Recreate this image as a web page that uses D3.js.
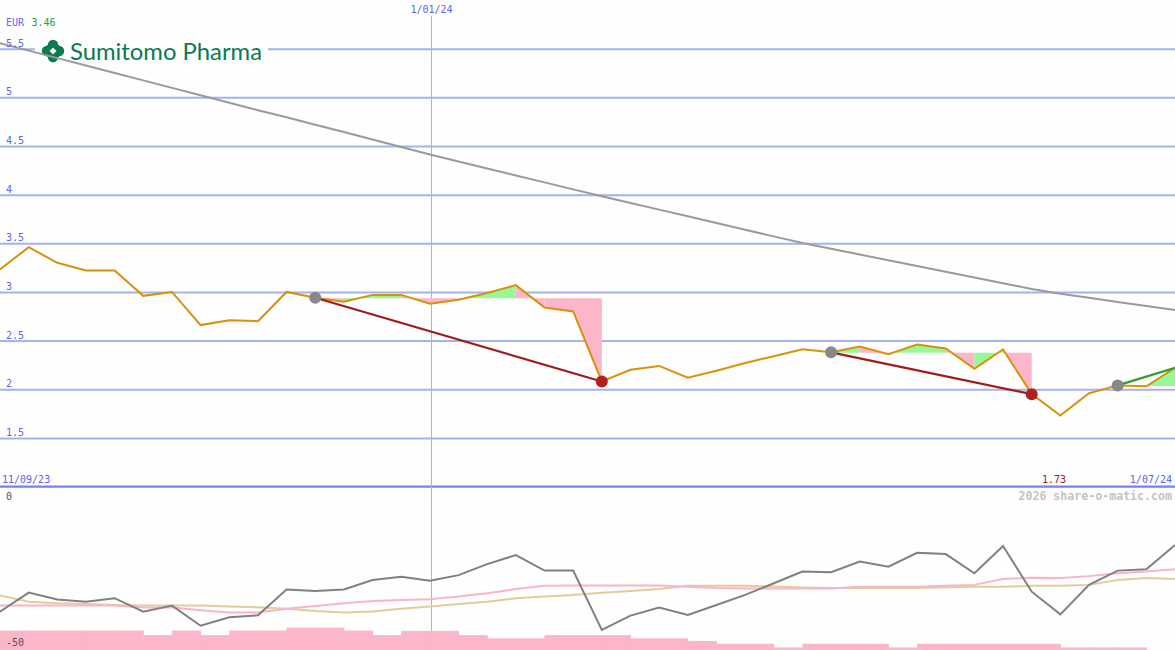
<!DOCTYPE html>
<html><head><meta charset="utf-8">
<script src="https://cdn.jsdelivr.net/npm/d3@7"></script>
<style>html,body{margin:0;padding:0;background:#fdfefd;overflow:hidden}</style>
</head><body><svg id="c" width="1175" height="650"></svg>
<script>
// ---- data ----
const dates = ["2023-09-18","2023-09-25","2023-10-02","2023-10-09","2023-10-16","2023-10-23","2023-10-30",
  "2023-11-06","2023-11-13","2023-11-20","2023-11-27","2023-12-04","2023-12-11","2023-12-18","2023-12-25",
  "2024-01-01","2024-01-08","2024-01-15","2024-01-22","2024-01-29","2024-02-05","2024-02-12","2024-02-19",
  "2024-02-26","2024-03-04","2024-03-11","2024-03-18","2024-03-25","2024-04-01","2024-04-08","2024-04-15",
  "2024-04-22","2024-04-29","2024-05-06","2024-05-13","2024-05-20","2024-05-27","2024-06-03","2024-06-10",
  "2024-06-17","2024-06-24","2024-07-01"];
const price = [3.23,3.46,3.30,3.22,3.22,2.96,3.00,2.66,2.71,2.70,3.00,2.94,2.90,2.97,2.97,2.88,2.92,2.99,3.07,2.84,
  2.80,2.08,2.20,2.24,2.12,2.19,2.27,2.34,2.41,2.38,2.44,2.36,2.46,2.42,2.21,2.41,1.95,1.73,1.96,2.04,2.03,2.22];
const movingAvg = [5.556,5.480,5.403,5.327,5.250,5.174,5.097,5.021,4.944,4.867,4.795,4.719,4.643,4.566,4.490,4.413,
  4.341,4.269,4.197,4.126,4.054,3.984,3.915,3.846,3.777,3.708,3.639,3.571,3.503,3.443,3.384,3.326,3.266,3.208,
  3.149,3.089,3.031,2.982,2.940,2.898,2.856,2.815];
const osc = [-38.2,-32.3,-34.4,-35.1,-34.0,-38.2,-36.3,-42.5,-39.9,-39.3,-31.3,-31.8,-31.3,-28.4,-27.4,-28.6,-26.9,
  -23.5,-20.7,-25.5,-25.5,-43.8,-39.4,-36.9,-39.2,-36.1,-33.0,-29.4,-25.8,-26.0,-22.7,-24.3,-20.0,-20.4,-26.3,
  -17.9,-32.0,-39.0,-29.9,-25.5,-25.1,-17.6];
const oscPink = [-36.3,-36.3,-36.3,-36.3,-36.3,-36.9,-36.9,-37.7,-38.4,-38.4,-37.3,-36.4,-35.6,-34.9,-34.6,-34.3,
  -33.5,-32.5,-31.2,-30.2,-30.1,-30.1,-30.1,-30.1,-30.5,-30.9,-31.0,-31.0,-31.0,-31.0,-30.5,-30.5,-30.5,-30.2,
  -29.9,-28.1,-27.7,-27.8,-27.2,-26.3,-25.8,-25.1];
const oscTan = [-33.2,-35.1,-35.6,-35.8,-36.1,-36.3,-36.3,-36.3,-36.6,-36.8,-37.3,-38.0,-38.4,-38.1,-37.3,-36.6,
  -35.8,-35.1,-34.0,-33.5,-33.0,-32.3,-31.8,-31.2,-30.2,-30.2,-30.2,-30.4,-30.7,-30.9,-30.9,-30.9,-30.9,-30.6,
  -30.5,-30.5,-30.2,-30.2,-29.9,-28.4,-27.8,-28.1];
const hist = [-44.0,-44.0,-44.0,-44.0,-44.0,-45.4,-44.0,-45.4,-44.0,-44.0,-43.1,-43.1,-44.0,-45.4,-44.1,-44.1,
  -45.4,-46.4,-46.4,-45.4,-45.4,-45.4,-46.4,-46.4,-47.2,-48.1,-48.1,-49.2,-48.1,-48.1,-48.1,-49.2,-48.1,-48.1,
  -48.1,-48.1,-48.1,-49.2,-49.2,-49.2,-50,-50];
const priceTicks = [1.5,2,2.5,3,3.5,4,4.5,5,5.5];
const priceTickLabels = ["1.5","2","2.5","3","3.5","4","4.5","5","5.5"];
const tradeEntry = ["2023-12-04","2024-04-08","2024-06-17"];
const tradeExit  = ["2024-02-12","2024-05-27","2024-07-01"];
const tradeOpen  = [false,false,true];
const yearMark = "2024-01-01";
const yearLabel = "1/01/24";
const startLabel = "11/09/23", endLabel = "1/07/24";
const currency = "EUR", maxLabel = "3.46", minLabel = "1.73";
const credit = "2026 share-o-matic.com";

// ---- setup ----
const W = 1175, H = 650;
const parse = d3.utcParse("%Y-%m-%d");
const D = dates.map(parse);
const svg = d3.select("#c");
svg.append("rect").attr("width",W).attr("height",H).attr("fill","#fdfefd");
const x = d3.scaleUtc().domain([D[0], D[D.length-1]]).range([0, W]);
const y = d3.scaleLinear().domain([1, 6]).range([486.6, 0]);
const y2 = d3.scaleLinear().domain([-50, 0]).range([650, 488]);
const mono = "'DejaVu Sans Mono', monospace";
const blueTxt = "#5868ee";
const GREEN = "#98f898", PINK = "#fbb6c9";

// gridlines via axis
const gAxis = svg.append("g").call(d3.axisRight(y).tickValues(priceTicks).tickSize(W).tickFormat(""));
gAxis.select(".domain").remove();
gAxis.selectAll(".tick line").attr("stroke","#a4b2f0").attr("stroke-width",2);
svg.append("line").attr("x1",0).attr("x2",W).attr("y1",y(1)).attr("y2",y(1))
  .attr("stroke","#7282f0").attr("stroke-width",2.2);

// vertical year line
const xm = Math.round(x(parse(yearMark))) + 1.5;
svg.append("line").attr("x1",xm).attr("x2",xm).attr("y1",16).attr("y2",H)
  .attr("stroke","#a4b2f0").attr("stroke-width",1);

// lower panel bars
const step = x(D[1]) - x(D[0]);
svg.append("g").selectAll("rect").data(hist).join("rect")
  .attr("x",(d,i)=>x(D[i])).attr("width",step+0.5)
  .attr("y",d=>y2(d)).attr("height",d=>Math.max(0,y2(-50)-y2(d)))
  .attr("fill",PINK);

// lower lines
const l2 = arr => d3.line().x((d,i)=>x(D[i])).y(d=>y2(d))(arr);
svg.append("path").attr("d",l2(oscTan)).attr("fill","none").attr("stroke","#e2cc9c").attr("stroke-width",2);
svg.append("path").attr("d",l2(oscPink)).attr("fill","none").attr("stroke","#f9b4c8").attr("stroke-width",2);
svg.append("path").attr("d",l2(osc)).attr("fill","none").attr("stroke","#808080").attr("stroke-width",2);

// trade fills: per segment between price and entry level, coloured by segment end
tradeEntry.forEach((e,t)=>{
  const i0 = dates.indexOf(e), i1 = dates.indexOf(tradeExit[t]);
  const lvl = price[i0], yl = y(lvl) + 0.5;
  for(let i=i0;i<i1;i++){
    const up = price[i+1] >= lvl;
    const pts = [[x(D[i]),yl],[x(D[i]),y(price[i])],[x(D[i+1]),y(price[i+1])],[x(D[i+1]),yl]];
    svg.append("path").attr("d","M"+pts.join("L")+"Z").attr("fill", up?GREEN:PINK);
  }
});

// logo box
svg.append("rect").attr("x",35).attr("y",38).attr("width",233).attr("height",24).attr("fill","#fdfefd");
const logo = svg.append("g").attr("fill","#0a7a50");
[[0,-6],[0,6],[-6,0],[6,0]].forEach(o=>logo.append("circle").attr("cx",53+o[0]).attr("cy",51+o[1]).attr("r",5.2));
logo.append("rect").attr("x",47).attr("y",45).attr("width",12).attr("height",12);
svg.append("path").attr("d","M53,47.5L56.5,51L53,54.5L49.5,51Z").attr("fill","#fdfefd");
svg.append("text").attr("x",70).attr("y",59.5).text("Sumitomo Pharma")
  .attr("font-family","Lato, 'Open Sans', sans-serif").attr("font-size",23).attr("fill","#0a7a50")
  .attr("textLength",192).attr("lengthAdjust","spacingAndGlyphs");

// moving average
const l1 = arr => d3.line().x((d,i)=>x(D[i])).y(d=>y(d))(arr);
svg.append("path").attr("d",l1(movingAvg)).attr("fill","none").attr("stroke","#9a9a9a").attr("stroke-width",2);

// price line
svg.append("path").attr("d",l1(price)).attr("fill","none").attr("stroke","#d6920a").attr("stroke-width",2);

// trades
tradeEntry.forEach((e,t)=>{
  const i0 = dates.indexOf(e), i1 = dates.indexOf(tradeExit[t]);
  svg.append("line").attr("x1",x(D[i0])).attr("y1",y(price[i0])).attr("x2",x(D[i1])).attr("y2",y(price[i1]))
    .attr("stroke", tradeOpen[t] ? "#2e9e2e" : "#a01c1c").attr("stroke-width",2.2);
});
tradeEntry.forEach((e,t)=>{
  const i0 = dates.indexOf(e), i1 = dates.indexOf(tradeExit[t]);
  svg.append("circle").attr("cx",x(D[i0])).attr("cy",y(price[i0])).attr("r",6).attr("fill","#888888");
  if(!tradeOpen[t]) svg.append("circle").attr("cx",x(D[i1])).attr("cy",y(price[i1])).attr("r",6).attr("fill","#b02020");
});

// labels
const txt = (s,xx,yy,col,anchor)=>svg.append("text").attr("x",xx).attr("y",yy).text(s).attr("fill",col)
    .attr("font-family",mono).attr("font-size",10).attr("text-anchor",anchor||"start");
priceTicks.forEach((v,i)=>txt(priceTickLabels[i],6,y(v)-2,blueTxt));
txt(currency,6,25.7,blueTxt);
txt(maxLabel,31.5,25.7,"#2ca02c");
txt(yearLabel,xm,12.7,blueTxt,"middle");
txt(startLabel,2,483,blueTxt);
txt(endLabel,1172,483,blueTxt,"end");
txt(minLabel,1054,483,"#a01c1c","middle");
txt(credit,1172,500,"#c4c4c4","end").attr("font-weight","bold").attr("font-size",11.6);
txt("0",6,499.5,"#555555");
txt("-50",6,645.7,"#555555");
</script></body></html>
